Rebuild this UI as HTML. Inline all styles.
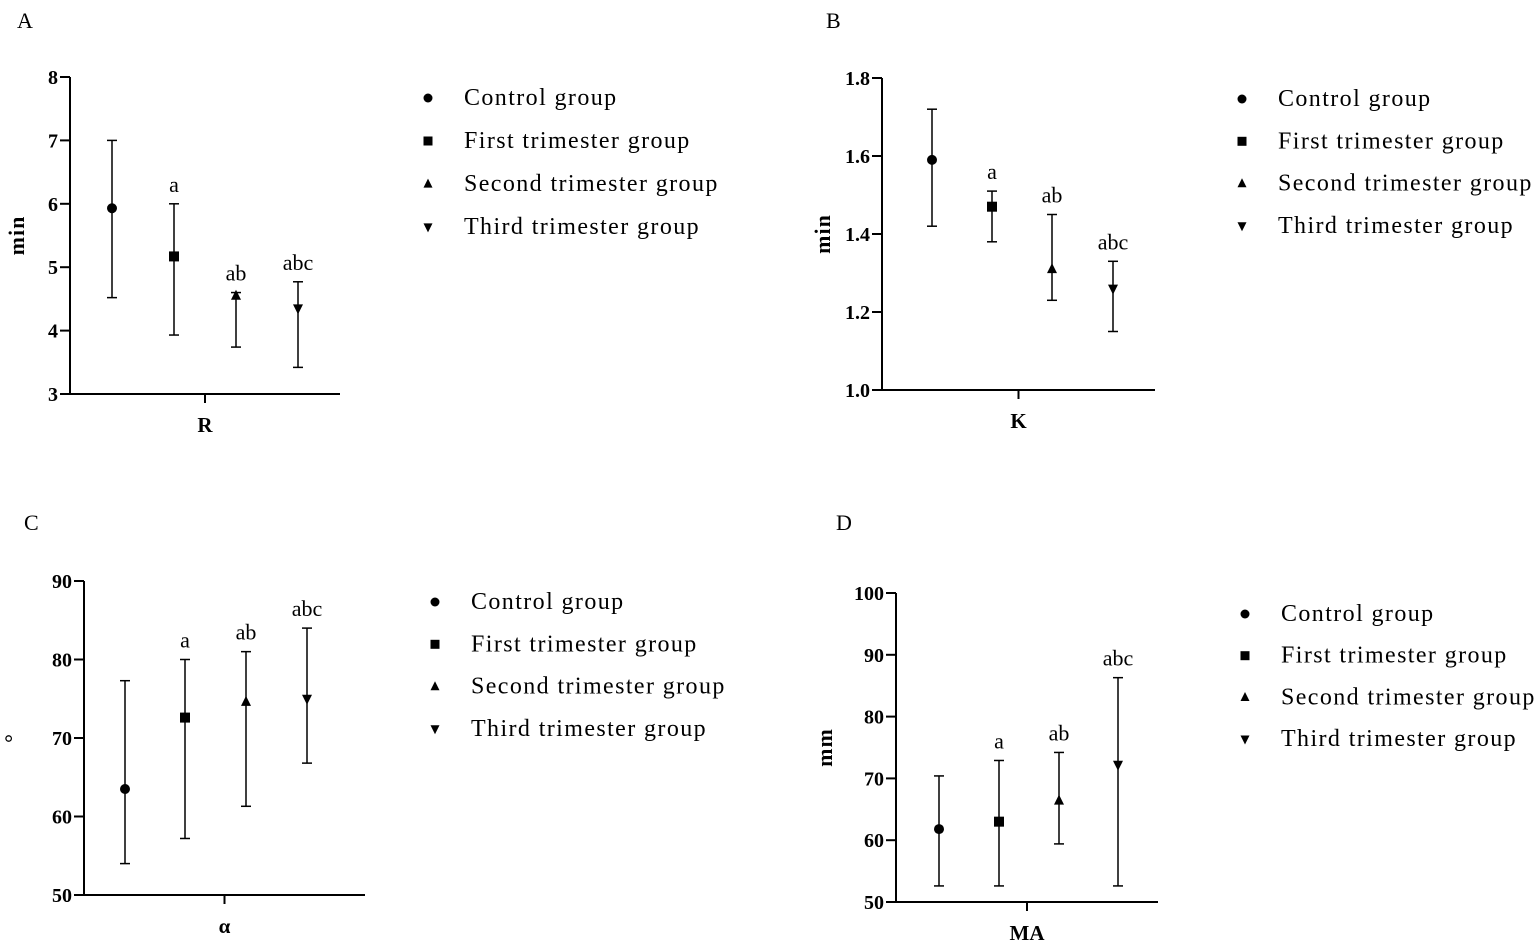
<!DOCTYPE html>
<html><head><meta charset="utf-8"><style>
html,body{margin:0;padding:0;background:#fff;}
svg{display:block;font-family:"Liberation Serif",serif;}
</style></head><body>
<svg id="fig" width="1535" height="948" viewBox="0 0 1535 948"></svg>
<script>
const groups = ["Control group","First trimester group","Second trimester group","Third trimester group"];
const markers = ["circle","square","up","down"];
const letters = ["","a","ab","abc"];
const meanA=[5.93,5.17,4.55,4.35], lowA=[4.52,3.93,3.74,3.42], highA=[7.0,6.0,4.6,4.77];
const meanB=[1.59,1.47,1.31,1.26], lowB=[1.42,1.38,1.23,1.15], highB=[1.72,1.51,1.45,1.33];
const meanC=[63.5,72.6,74.6,75.0], lowC=[54,57.2,61.3,66.8], highC=[77.3,80,81,84];
const meanD=[61.8,63.0,66.4,72.2], lowD=[52.6,52.6,59.4,52.6], highD=[70.4,72.9,74.2,86.3];
const ticksA=[3,4,5,6,7,8], ticksB=[1.0,1.2,1.4,1.6,1.8], ticksC=[50,60,70,80,90], ticksD=[50,60,70,80,90,100];
const NS="http://www.w3.org/2000/svg";
const svg=document.getElementById('fig');
function mk(tag,attrs,parent){const e=document.createElementNS(NS,tag);for(const k in attrs)e.setAttribute(k,attrs[k]);(parent||svg).appendChild(e);return e;}
function txt(s,attrs,parent){const e=mk('text',attrs,parent);e.textContent=s;return e;}
function marker(g,type,x,y,s){
  if(type==="circle")return mk('circle',{cx:x,cy:y,r:s,fill:'#000'},g);
  if(type==="square")return mk('rect',{x:x-s,y:y-s,width:2*s,height:2*s,fill:'#000'},g);
  if(type==="up")return mk('polygon',{points:`${x},${y-s*1.2} ${x-s},${y+s*0.8} ${x+s},${y+s*0.8}`,fill:'#000'},g);
  return mk('polygon',{points:`${x},${y+s*1.2} ${x-s},${y-s*0.8} ${x+s},${y-s*0.8}`,fill:'#000'},g);
}
function panel(o){
  const g=mk('g',{});
  
  
  const t0=o.ticks[0],t1=o.ticks[o.ticks.length-1];
  const Y=v=>o.yb+(v-t0)/(t1-t0)*(o.yt-o.yb);
  const pl=txt(o.id,{x:o.lx,y:o.ly,'font-size':22},g);
  
  const ya=mk('line',{x1:o.ax,y1:o.yt,x2:o.ax,y2:o.yb,stroke:'#000','stroke-width':2},g);
  
  const xa=mk('line',{x1:o.ax-10,y1:o.yb,x2:o.xe,y2:o.yb,stroke:'#000','stroke-width':2},g);
  
  mk('line',{x1:(o.ax+o.xe)/2,y1:o.yb,x2:(o.ax+o.xe)/2,y2:o.yb+9,stroke:'#000','stroke-width':2},g);
  o.ticks.forEach(v=>{
    const y=Y(v);
    mk('line',{x1:o.ax-10,y1:y,x2:o.ax,y2:y,stroke:'#000','stroke-width':2},g);
    const tl=txt(o.fmt(v),{x:o.ax-12,y:y+7,'font-size':20,'font-weight':'bold','text-anchor':'end'},g);
    
  });
  const yl=txt(o.ylab,{x:0,y:0,'font-size':22,'font-weight':'bold','text-anchor':'middle','letter-spacing':1,transform:`translate(${o.ylx},${(o.yt+o.yb)/2}) rotate(-90)`},g);
  
  const xl=txt(o.xlab,{x:(o.ax+o.xe)/2,y:o.yb+38,'font-size':21,'font-weight':'bold','text-anchor':'middle'},g);
  
  o.mean.forEach((m,i)=>{
    const x=o.xs[i];
    const eg=mk('g',{},g);
    
    mk('line',{x1:x,y1:Y(o.lo[i]),x2:x,y2:Y(o.hi[i]),stroke:'#000','stroke-width':1.5},eg);
    mk('line',{x1:x-5,y1:Y(o.lo[i]),x2:x+5,y2:Y(o.lo[i]),stroke:'#000','stroke-width':1.5},eg);
    mk('line',{x1:x-5,y1:Y(o.hi[i]),x2:x+5,y2:Y(o.hi[i]),stroke:'#000','stroke-width':1.5},eg);
    const p=marker(g,markers[i],x,Y(m),5);
    
    if(letters[i]){const a=txt(letters[i],{x:x,y:Y(o.hi[i])-12,'font-size':22,'text-anchor':'middle'},g);
      }
  });
  groups.forEach((n,i)=>{
    const y=o.legy+i*o.legdy;
    const lg=mk('g',{},g);
    
    marker(lg,markers[i],o.legx,y,4.5);
    txt(n,{x:o.legx+36,y:y+7,'font-size':24,'letter-spacing':1.4},lg);
  });
}
const f1=v=>String(v), f2=v=>v.toFixed(1);
panel({id:'A',lx:17,ly:28,ax:70,yt:77,yb:394,xe:340,ticks:ticksA,fmt:f1,ylab:'min',ylx:24,xlab:'R',xs:[112,174,236,298],mean:meanA,lo:lowA,hi:highA,legx:428,legy:98,legdy:43});
panel({id:'B',lx:826,ly:28,ax:882,yt:78,yb:390,xe:1155,ticks:ticksB,fmt:f2,ylab:'min',ylx:830,xlab:'K',xs:[932,992,1052,1113],mean:meanB,lo:lowB,hi:highB,legx:1242,legy:99,legdy:42.3});
panel({id:'C',lx:24,ly:530,ax:84,yt:581,yb:895,xe:365,ticks:ticksC,fmt:f1,ylab:'°',ylx:20,xlab:'α',xs:[125,185,246,307],mean:meanC,lo:lowC,hi:highC,legx:435,legy:602,legdy:42.3});
panel({id:'D',lx:836,ly:530,ax:896,yt:593,yb:902,xe:1158,ticks:ticksD,fmt:f1,ylab:'mm',ylx:832,xlab:'MA',xs:[939,999,1059,1118],mean:meanD,lo:lowD,hi:highD,legx:1245,legy:614,legdy:41.7});
</script>
</body></html>
